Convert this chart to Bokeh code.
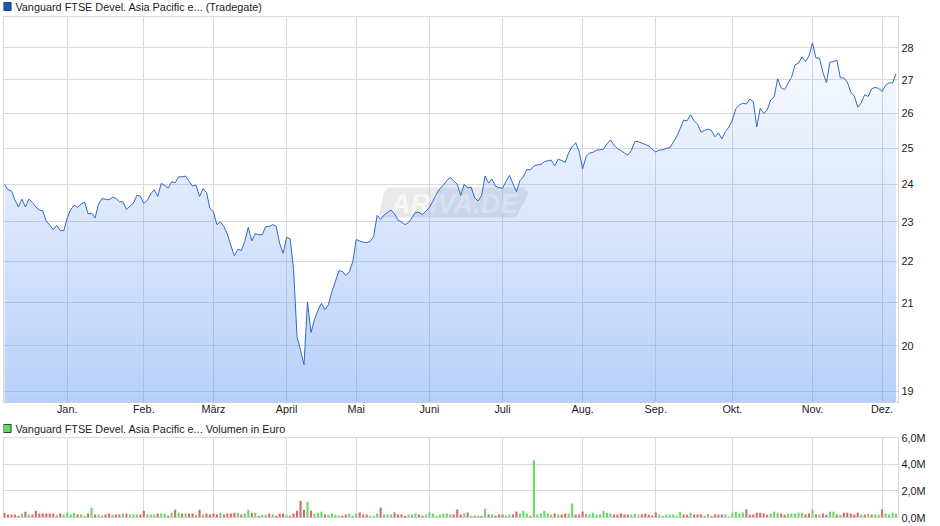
import numpy as np
from bokeh.plotting import figure
from bokeh.layouts import column
from bokeh.core.properties import value
from bokeh.models import Range1d, FixedTicker, Label, PolyAnnotation
from bokeh.embed import file_html
from bokeh.resources import INLINE

prices = [
 24.0,23.85,23.82,23.58,23.39,23.6,23.39,23.6,23.51,23.39,
 23.31,23.29,23.02,22.92,22.8,22.91,22.78,22.77,23.1,23.32,
 23.44,23.38,23.47,23.52,23.21,23.23,23.1,23.47,23.61,23.6,
 23.58,23.65,23.62,23.53,23.53,23.33,23.41,23.49,23.7,23.68,
 23.49,23.56,23.74,23.85,23.67,24.02,23.97,23.89,24.07,24.04,
 24.2,24.2,24.22,24.08,23.95,23.97,23.67,23.88,23.78,23.35,
 23.26,22.93,23.0,22.88,22.68,22.4,22.14,22.3,22.27,22.5,
 22.86,22.51,22.7,22.67,22.67,22.88,22.88,22.93,22.89,22.45,
 22.2,22.6,22.57,21.8,20.2,19.9,19.58,21.02,20.3,20.6,
 20.82,20.98,20.83,20.95,21.26,21.5,21.77,21.75,21.65,21.74,
 21.99,22.55,22.51,22.48,22.47,22.5,22.62,23.17,23.07,23.18,
 23.25,23.31,23.21,23.05,23.0,22.93,22.98,23.11,23.25,23.25,
 23.19,23.28,23.38,23.54,23.73,23.88,23.97,24.1,24.18,24.09,
 24.0,23.7,24.0,23.9,23.92,23.63,23.55,23.7,24.22,24.03,
 24.14,23.94,23.91,23.89,24.08,24.24,24.01,23.8,24.1,24.2,
 24.41,24.39,24.5,24.53,24.54,24.62,24.64,24.66,24.5,24.69,
 24.65,24.6,24.87,25.04,25.15,24.9,24.42,24.76,24.86,24.88,
 24.94,24.95,24.97,25.12,25.23,25.08,24.98,24.93,24.86,24.8,
 24.93,25.19,25.18,25.14,25.1,25.06,24.96,24.89,24.94,24.95,
 24.99,25.01,25.16,25.32,25.55,25.8,25.78,25.96,25.78,25.68,
 25.45,25.5,25.54,25.5,25.32,25.43,25.26,25.47,25.6,25.8,
 26.14,26.24,26.3,26.27,26.42,26.35,25.6,26.15,25.99,26.1,
 26.39,26.49,27.03,26.76,26.7,26.9,27.08,27.46,27.51,27.71,
 27.56,27.74,28.15,27.67,27.67,27.23,26.91,27.54,27.56,27.61,
 27.06,27.06,26.93,26.63,26.51,26.18,26.31,26.55,26.5,26.73,
 26.77,26.74,26.65,26.83,26.91,26.91,27.18,
]
volumes = [
 .35,.23,.23,.23,.13,.28,.43,.23,.23,.5,
 .3,.3,.3,.3,.3,.2,.3,.23,.35,.23,
 .35,.23,.23,.13,.3,.73,.23,.2,.13,.23,
 .3,.2,.23,.23,.3,.3,.23,.23,.23,.23,
 .5,.23,.23,.23,.3,.3,.3,.13,.35,.58,
 .35,.3,.3,.3,.3,.2,.58,.23,.3,.23,
 .3,.23,.35,.23,.3,.3,.35,.35,.23,.3,
 .58,.35,.35,.13,.2,.2,.3,.23,.13,.3,
 .3,.2,.13,.3,.5,1.26,.58,1.18,.5,.28,
 .35,.43,.23,.2,.3,.2,.13,.13,.23,.3,
 .13,.3,.38,.23,.23,.13,.13,.3,.75,.23,
 .23,.23,.38,.23,.23,.13,.23,.23,.3,.23,
 .13,.23,.38,.3,.13,.23,.3,.3,.23,.23,
 .6,.23,.3,.38,.13,.13,.13,.13,.65,.23,
 .23,.13,.23,.23,.13,.2,.23,.45,.3,.5,
 .3,.13,4.3,.23,.3,.5,.3,.23,.3,.23,
 .23,.3,.3,1.05,.23,.23,.45,.28,.23,.35,
 .23,.23,.5,.35,.3,.23,.23,.3,.23,.23,
 .23,.28,.25,.25,.3,.23,.15,.38,.23,.13,
 .2,.23,.23,.15,.43,.23,.2,.35,.23,.23,
 .23,.13,.28,.13,.23,.23,.23,.23,.08,.35,
 .43,.3,.38,.6,.2,.23,.35,.35,.3,.2,
 .28,.43,.35,.3,.2,.28,.3,.3,.35,.35,
 .23,.3,.6,.23,.23,.3,.2,.43,.43,.23,
 .2,.35,.35,.28,.23,.35,.23,.23,.28,.23,
 .23,.2,.6,.3,.23,.35,.28,
]
directions = (
 "rrrrrgrgrr" "rrrrrgrggg" "grggrgrggr" "rgrrgrgggr" "rgggrggrgr"
 "grgrrgrgrr" "rrgrrrrgrg" "grgrggrgrr" "rgrrrrrgrg" "ggrggggrrg"
 "ggrrrgggrg" "ggrrrrgggr" "rggggggggr" "rrgrgrgrgr" "grrrggrrgg"
 "grggggggrg" "rrggrrrggg" "gggggrrrrr" "ggnrrrrrgg" "gggggrrgrr"
 "rggrrrrggg" "gggrrrrrrr" "gggrrggggg" "rrgrgrrggr" "grrrrrgrgr"
 "ggrgggg"
)
month_idx = [18, 40, 60, 81, 101, 122, 143, 166, 187, 209, 232, 252]
month_names = ["Jan.", "Feb.", "März", "April", "Mai", "Juni", "Juli", "Aug.", "Sep.", "Okt.", "Nov.", "Dez."]
price_ticks = [19, 20, 21, 22, 23, 24, 25, 26, 27, 28]
vol_ticks = [0, 2, 4, 6]
vol_labels = ["0,0M", "2,0M", "4,0M", "6,0M"]
title_main = "Vanguard FTSE Devel. Asia Pacific e... (Tradegate)"
title_vol = "Vanguard FTSE Devel. Asia Pacific e... Volumen in Euro"

FONT = "Liberation Sans"
TEXT = "#1c1c1c"
GRID = "#d9d9d9"
FS = "10.85px"
W = 940
H_LEG1, H1, H_LEG2, H2 = 16, 404, 17, 96
OVERLAP = 7               # volume figure reaches up under its legend row, room for the "6,0M" label
FRAME1 = 386              # main frame height
XR = (-0.287, 256.7)
YMIN, YMAX = 18.76, 29.0
n = len(prices)
x = np.arange(n)


def style(p, ticks_y):
    p.outline_line_color = GRID
    p.outline_line_width = 1
    p.xgrid.ticker = FixedTicker(ticks=month_idx)
    p.ygrid.ticker = FixedTicker(ticks=ticks_y)
    p.xgrid.grid_line_color = GRID
    p.ygrid.grid_line_color = GRID
    for ax in (p.xaxis[0], p.yaxis[0]):
        ax.axis_line_color = None
        ax.major_tick_line_color = None
        ax.minor_tick_line_color = None
        ax.major_tick_out = 0
        ax.major_tick_in = 0
        ax.minor_tick_out = 0
        ax.minor_tick_in = 0
        ax.major_label_text_font = FONT
        ax.major_label_text_font_size = FS
        ax.major_label_text_color = TEXT
    p.yaxis[0].ticker = FixedTicker(ticks=ticks_y)
    p.yaxis[0].major_label_standoff = 3


def legend_row(text, colour, height, mid):
    f = figure(width=W, height=height, output_backend="svg", toolbar_location=None,
               x_axis_location=None, y_axis_location=None,
               x_range=Range1d(0, W), y_range=Range1d(height, 0),
               min_border=0, outline_line_color=None,
               background_fill_color="white", border_fill_color="white")
    f.grid.visible = False
    f.quad(left=[0], right=[8], top=[mid - 4], bottom=[mid + 4], fill_color=colour,
           line_color="#223344", line_alpha=0.9, line_width=1)
    f.text(x=[12.5], y=[mid], text=[text], text_font=value(FONT), text_font_size=value(FS),
           text_color=TEXT, text_baseline="middle")
    return f


leg1 = legend_row(title_main, "#1a56b8", H_LEG1, 6)
leg2 = legend_row(title_vol, "#66d966", H_LEG2, 8)

p1 = figure(width=W, height=H1, output_backend="svg", toolbar_location=None,
            y_axis_type="log", y_axis_location="right",
            x_range=Range1d(*XR), y_range=Range1d(YMIN, YMAX),
            min_border_left=3, min_border_right=42, min_border_top=0, min_border_bottom=H1 - FRAME1,
            background_fill_color="white", border_fill_color="white")
style(p1, price_ticks)
p1.xaxis[0].ticker = FixedTicker(ticks=month_idx)
p1.xaxis[0].major_label_overrides = dict(zip(month_idx, month_names))
p1.xaxis[0].major_label_standoff = 0
p1.yaxis[0].major_label_overrides = {t: str(t) for t in price_ticks}

# watermark behind the fill (screen units count up from the frame's bottom edge)
page_to_screen = lambda v: FRAME1 + H_LEG1 - v
wx = [384, 520, 525, 522, 512, 375, 377, 380]
wy = [page_to_screen(v) for v in [187, 187, 191, 200, 217, 217, 208, 193]]
p1.add_layout(PolyAnnotation(xs=wx, ys=wy, xs_units="screen", ys_units="screen",
                             fill_color="#c8c8c8", fill_alpha=0.4, line_color=None,
                             level="underlay"))
p1.add_layout(Label(x=451, y=page_to_screen(203), x_units="screen", y_units="screen", text="ARIVA.DE",
                    text_font=FONT, text_font_size="27px", text_font_style="bold italic",
                    text_color="white", text_alpha=0.6, text_align="center",
                    text_baseline="middle", level="underlay"))

# vertical gradient under the line: adjacent translucent bands, one per 6 screen pixels
fine_x = np.linspace(0, n - 1, (n - 1) * 4 + 1)
fine_log = np.interp(fine_x, x, np.log(prices))
band_px = 6
edges = np.concatenate([[FRAME1], np.arange(FRAME1 - 0.5, 0, -band_px), [0]])
log_at = lambda px: np.log(YMIN) + (FRAME1 - px) / FRAME1 * (np.log(YMAX) - np.log(YMIN))
for lo_px, hi_px in zip(edges[:-1], edges[1:]):
    if lo_px - hi_px < 1e-6:
        continue
    lo, hi = log_at(lo_px), log_at(hi_px)
    frac = ((lo_px + hi_px) / 2) / FRAME1   # 0 at top, 1 at bottom
    mask = fine_log > lo
    mask = mask | np.roll(mask, 1) | np.roll(mask, -1)
    if not mask.any():
        continue
    y2 = np.clip(fine_log[mask], lo, hi)
    p1.varea(fine_x[mask], np.full_like(y2, np.exp(lo)), np.exp(y2),
             fill_color="#5a91f0", fill_alpha=float(0.43 * frac))
p1.line(x, prices, line_color="#2f69c8", line_width=1.0)

p2 = figure(width=W, height=H2, output_backend="svg", toolbar_location=None,
            y_axis_location="right", x_range=Range1d(*XR), y_range=Range1d(0, 6),
            min_border_left=3, min_border_right=42, min_border_top=OVERLAP, min_border_bottom=9,
            background_fill_color="white", border_fill_color=None,
            margin=(-OVERLAP, 0, 0, 0))
style(p2, vol_ticks)
p2.xaxis[0].visible = False
p2.yaxis[0].major_label_overrides = dict(zip(vol_ticks, vol_labels))
cmap = {"r": "#dd6666", "g": "#66d966", "n": "#bdbdbd"}
p2.vbar(x=x, top=volumes, width=0.6, bottom=0, line_color=None,
        fill_color=[cmap[c] for c in directions])

page = column(leg1, p1, leg2, p2, spacing=0)
open("out.html", "w").write(file_html(page, INLINE))
